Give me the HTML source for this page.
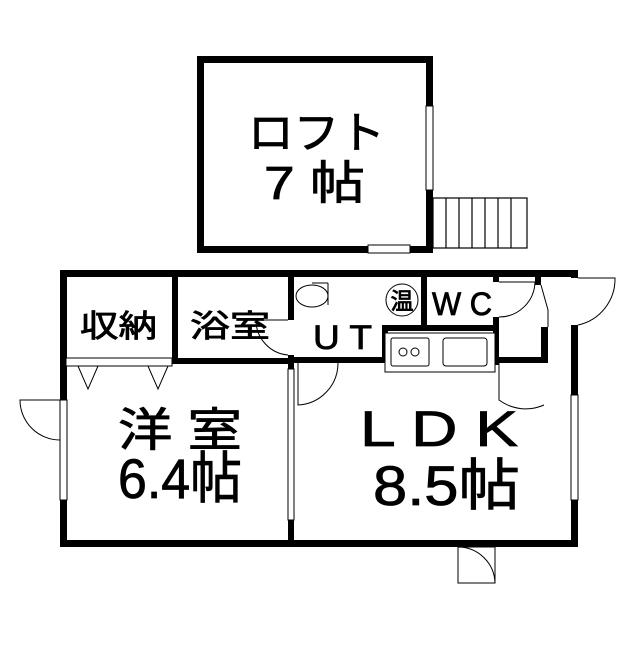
<!DOCTYPE html>
<html><head><meta charset="utf-8"><style>
html,body{margin:0;padding:0;background:#fff;}
text{font-family:"Liberation Sans","Noto Sans CJK JP",sans-serif;fill:#000;stroke:#000;stroke-width:0.8;}
</style></head><body>
<svg width="639" height="640" viewBox="0 0 639 640" xmlns="http://www.w3.org/2000/svg">
<rect width="639" height="640" fill="#fff"/>
<g fill="#000">
<rect x="197" y="56" width="236" height="7"/>
<rect x="197" y="56" width="7" height="197"/>
<rect x="197" y="246" width="236" height="7"/>
<rect x="426" y="56" width="7" height="50"/>
<rect x="426" y="190" width="7" height="63"/>
</g>
<rect x="426" y="106" width="7" height="84" fill="#fff" stroke="#000" stroke-width="1"/>
<rect x="368" y="245" width="42" height="8" fill="#fff" stroke="#000" stroke-width="1"/>
<g fill="none" stroke="#000" stroke-width="1.2">
<rect x="433" y="198" width="94" height="50"/>
<line x1="446" y1="198" x2="446" y2="248"/><line x1="459" y1="198" x2="459" y2="248"/>
<line x1="472" y1="198" x2="472" y2="248"/><line x1="485" y1="198" x2="485" y2="248"/>
<line x1="498" y1="198" x2="498" y2="248"/><line x1="511" y1="198" x2="511" y2="248"/>
</g>
<text x="248" y="148" font-size="44" textLength="137" lengthAdjust="spacingAndGlyphs">ロフト</text>
<text x="264" y="199" font-size="46" textLength="101" lengthAdjust="spacingAndGlyphs">7 帖</text>
<g fill="#000">
<rect x="60" y="270" width="518" height="7"/>
<rect x="60" y="540" width="518" height="7"/>
<rect x="60" y="270" width="7" height="130"/>
<rect x="60" y="500" width="7" height="47"/>
<rect x="571" y="270" width="7" height="8"/>
<rect x="571" y="325" width="7" height="70"/>
<rect x="571" y="500" width="7" height="47"/>
<rect x="172" y="270" width="6" height="94"/>
<rect x="172" y="358" width="122" height="6"/>
<rect x="288" y="270" width="6" height="50"/>
<rect x="288" y="355" width="6" height="14"/>
<rect x="288" y="520" width="6" height="27"/>
<rect x="294" y="357" width="92" height="6"/>
<rect x="382" y="325" width="6" height="38"/>
<rect x="382" y="325" width="117" height="6"/>
<rect x="421" y="270" width="6" height="61"/>
<rect x="493" y="270" width="6" height="12"/>
<rect x="493" y="317" width="6" height="48"/>
<rect x="499" y="357" width="48" height="6"/>
<rect x="541" y="327" width="7" height="36"/>
<rect x="535" y="270" width="6" height="15"/>
</g>
<g fill="#fff" stroke="#000" stroke-width="1">
<rect x="60" y="400" width="7" height="100"/>
<rect x="571" y="395" width="7" height="105"/>
<rect x="288" y="369" width="6" height="151"/>
<rect x="66" y="358" width="106" height="8"/>
<rect x="385" y="333" width="110" height="39"/>
<rect x="391" y="338" width="38" height="28" rx="2"/>
<rect x="443" y="338" width="44" height="28" rx="3"/>
<circle cx="403" cy="352" r="4"/><circle cx="415" cy="352" r="4"/>
<ellipse cx="312" cy="296" rx="16" ry="11"/>
<circle cx="402" cy="300" r="16"/>
</g>
<g fill="none" stroke="#000" stroke-width="1">
<path d="M78 366 L88 389 L98 366"/><path d="M148 366 L158 389 L168 366"/>
<path d="M60 400 L20 400 A40 40 0 0 0 60 440"/>
<path d="M288 320 L256 320 A35 35 0 0 0 288 355"/>
<path d="M298 363 L298 405 A42 42 0 0 0 338 363"/>
<path d="M499 282 L535 282 A36 36 0 0 1 499 317"/>
<path d="M499 363 L499 400 A45 45 0 0 0 544 405"/>
<path d="M578 278 L615 278 A47 47 0 0 1 578 325"/>
<path d="M541 285 L548 310 L548 327"/>
<path d="M458 547 L458 583 L495 583 A37 37 0 0 0 458 547"/>
<rect x="458" y="547" width="37" height="36"/>
<line x1="312" y1="283" x2="328" y2="283"/><line x1="328" y1="283" x2="328" y2="305"/>
</g>
<text x="80" y="337" font-size="31" textLength="77" lengthAdjust="spacingAndGlyphs">収納</text>
<text x="190" y="337" font-size="31" textLength="80" lengthAdjust="spacingAndGlyphs">浴室</text>
<text x="402" y="309" font-size="23" text-anchor="middle">温</text>
<text x="313" y="349" font-size="34" textLength="59" lengthAdjust="spacingAndGlyphs">U T</text>
<text x="432" y="315" font-size="32" textLength="60" lengthAdjust="spacingAndGlyphs">W C</text>
<text x="118" y="446" font-size="46" textLength="124" lengthAdjust="spacingAndGlyphs">洋 室</text>
<text x="118" y="498" font-size="56" textLength="124" lengthAdjust="spacingAndGlyphs">6.4帖</text>
<text x="360" y="446" font-size="50" textLength="158" lengthAdjust="spacingAndGlyphs">L D K</text>
<text x="373" y="505" font-size="56" textLength="147" lengthAdjust="spacingAndGlyphs">8.5帖</text>
</svg>
</body></html>
